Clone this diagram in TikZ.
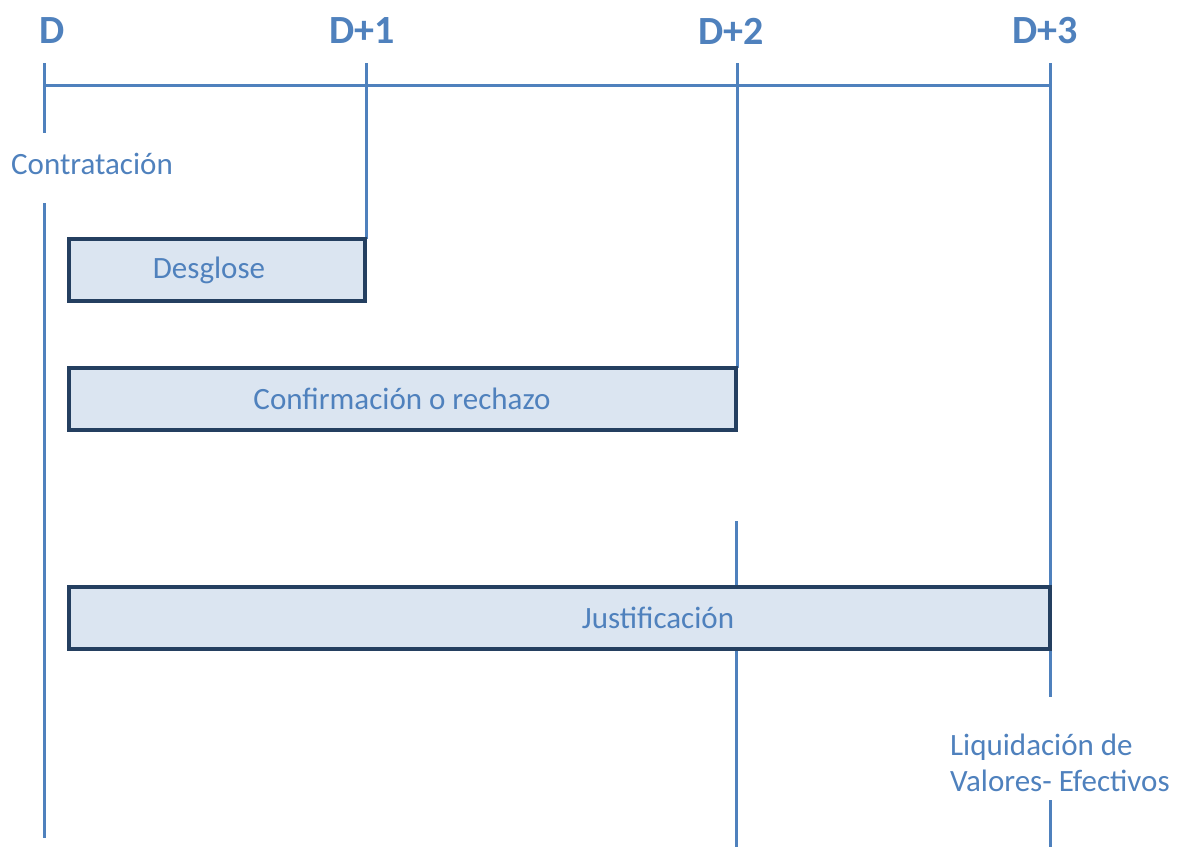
\documentclass[tikz,border=0pt]{standalone}
\usepackage{fontspec}
\setmainfont{Carlito}
\definecolor{tblue}{HTML}{4F81BD}
\definecolor{tnavy}{HTML}{243F60}
\definecolor{tfill}{HTML}{DBE5F1}
\begin{document}
\begin{tikzpicture}[x=1pt,y=-1pt,
  tline/.style={draw=tblue,line width=3pt},
  bar/.style={draw=tnavy,fill=tfill,line width=4pt,anchor=north west,inner sep=0pt,outer sep=0pt,minimum height=62pt},
  day/.style={text=tblue,font=\bfseries\fontsize{40}{46}\selectfont},
  lbl/.style={text=tblue,font=\fontsize{31}{36}\selectfont,inner sep=0pt}]
\useasboundingbox (0,0) rectangle (1181,847);
% day labels
\node[day] (d0) at (52,31) {D};
\node[day] (d1) at (362,31) {D+1};
\node[day] (d2) at (731,31) {D+2};
\node[day] (d3) at (1045,31) {D+3};
% coordinates
\coordinate (a0) at (44,63);
\coordinate (a0b) at (44,133);
\coordinate (a0c) at (44,203);
\coordinate (a0d) at (44,838);
\coordinate (a1) at (366,63);
\coordinate (a2) at (737,63);
\coordinate (a3) at (1050,63);
\coordinate (h0) at (44,85);
\coordinate (h3) at (1050,85);
\coordinate (b2a) at (736,521);
\coordinate (b2b) at (736,847);
\coordinate (a3e) at (1050,697);
\coordinate (a3f) at (1050,800);
\coordinate (a3g) at (1050,847);
% lines
\draw[tline] (a0) -- (a0b);
\draw[tline] (a0c) -- (a0d);
\draw[tline] (h0) -- (h3);
\draw[tline] (a1) -- (a1 |- 0,239);
\draw[tline] (a2) -- (a2 |- 0,368);
\draw[tline] (b2a) -- (b2b);
\draw[tline] (a3) -- (a3e);
\draw[tline] (a3f) -- (a3g);
% bars
\node[bar,minimum width=296pt] (desg) at (69,239) {};
\node[bar,minimum width=667pt] (conf) at (69,368) {};
\node[bar,minimum width=981pt] (just) at (69,587) {};
\node[lbl] (tdesg) at (209,270) {Desglose};
\node[lbl] (tconf) at (402,399) {Confirmación o rechazo};
\node[lbl] (tjust) at (658,618) {Justificación};
\node[lbl] (contr) at (92,164) {Contratación};
\node[lbl,align=left,anchor=west] (liq) at (950,763) {Liquidación de\\Valores- Efectivos};
\end{tikzpicture}
\end{document}
